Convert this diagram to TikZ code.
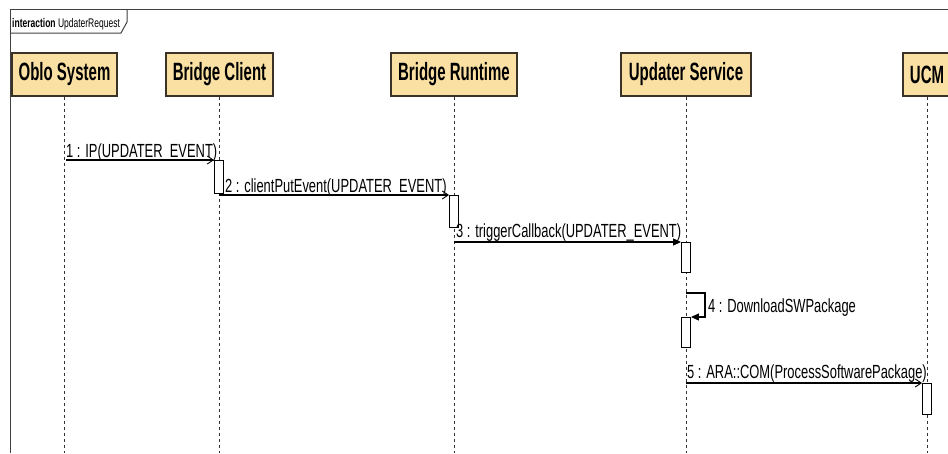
\documentclass[tikz,border=0pt]{standalone}
\usepackage{fontspec}
\setmainfont{Liberation Sans}[FakeStretch=0.68]
\newfontfamily\headfont{Liberation Sans}[FakeStretch=0.6]
\usetikzlibrary{arrows.meta}
\definecolor{headfill}{HTML}{FAE0A3}
\definecolor{headdraw}{HTML}{3A3226}
\begin{document}
\begin{tikzpicture}[x=1pt,y=-1pt,
  head/.style={draw=headdraw,line width=1.3pt,fill=headfill,minimum height=43pt,inner sep=0pt,font=\headfont\bfseries\fontsize{25}{27}\selectfont},
  lifeline/.style={draw=black!80,line width=0.8pt,dash pattern=on 3pt off 3pt},
  actbar/.style={draw=black,line width=0.9pt,fill=white,minimum width=9pt,inner sep=0pt,anchor=north},
  msg/.style={draw=black,line width=1.1pt},
  openarrow/.style={-{Straight Barb[length=6pt,width=8pt,line width=0.9pt]}},
  fillarrow/.style={-{Triangle[length=8pt,width=7pt]}},
  lbl/.style={inner sep=0pt,anchor=base west,font=\fontsize{19}{21}\selectfont}
]
\useasboundingbox (0,0) rectangle (948,453);
% frame
\draw[black!75,line width=1pt] (10,453) -- (10,9) -- (948,9);
\draw[black!75,line width=1pt] (127,9) -- (127,22) -- (121,33) -- (10,33);
\node[inner sep=0pt,anchor=base west,font=\fontsize{12.5}{14}\selectfont] (framelbl) at (12,27) {\textbf{interaction} UpdaterRequest};
% heads
\node[head,minimum width=105pt] (oblo) at (64.5,74.5) {Oblo System};
\node[head,minimum width=107pt] (client) at (219.5,74.5) {Bridge Client};
\node[head,minimum width=126pt] (runtime) at (454,74.5) {Bridge Runtime};
\node[head,minimum width=130pt] (updater) at (686,74.5) {Updater Service};
\node[head,minimum width=48pt] (ucm) at (927,74.5) {UCM};
% lifeline ends
\coordinate (oblo-end) at (oblo.center |- 0,453);
\coordinate (client-end) at (client.center |- 0,453);
\coordinate (runtime-end) at (runtime.center |- 0,453);
\coordinate (updater-end) at (updater.center |- 0,453);
\coordinate (ucm-end) at (ucm.center |- 0,453);
\draw[lifeline] (oblo.south) -- (oblo-end);
\draw[lifeline] (client.south) -- (client-end);
\draw[lifeline] (runtime.south) -- (runtime-end);
\draw[lifeline] (updater.south) -- (updater-end);
\draw[lifeline] (ucm.south) -- (ucm-end);
% activation bars
\node[actbar,minimum height=33pt] (b1) at (219,160) {};
\node[actbar,minimum height=32pt] (b2) at (454,195) {};
\node[actbar,minimum height=30pt] (b3) at (686,242) {};
\node[actbar,minimum height=30pt] (b4) at (686,317) {};
\node[actbar,minimum height=31pt] (b5) at (927,383) {};
% message start points
\coordinate (s1) at (66,160);
\coordinate (s2) at (219,195);
\coordinate (s3) at (454,242);
\coordinate (s4) at (686,293);
\coordinate (s4c) at (705,317);
\coordinate (s5) at (686,383);
% messages
\draw[msg,openarrow] (s1) -- (b1.north west);
\draw[msg,openarrow] (s2) -- (b2.north west);
\draw[msg,fillarrow] (s3) -- (b3.north west);
\draw[msg,fillarrow] (s4) -| (s4c) -- (b4.north east);
\draw[msg,openarrow] (s5) -- (b5.north west);
% labels
\node[lbl] (l1) at (66,157) {1 : IP(UPDATER\_EVENT)};
\node[lbl] (l2) at (225,192) {2 : clientPutEvent(UPDATER\_EVENT)};
\node[lbl] (l3) at (456,237) {3 : triggerCallback(UPDATER\_EVENT)};
\node[lbl] (l4) at (708,312) {4 : DownloadSWPackage};
\node[lbl] (l5) at (687,378) {5 : ARA::COM(ProcessSoftwarePackage)};
\end{tikzpicture}
\end{document}
